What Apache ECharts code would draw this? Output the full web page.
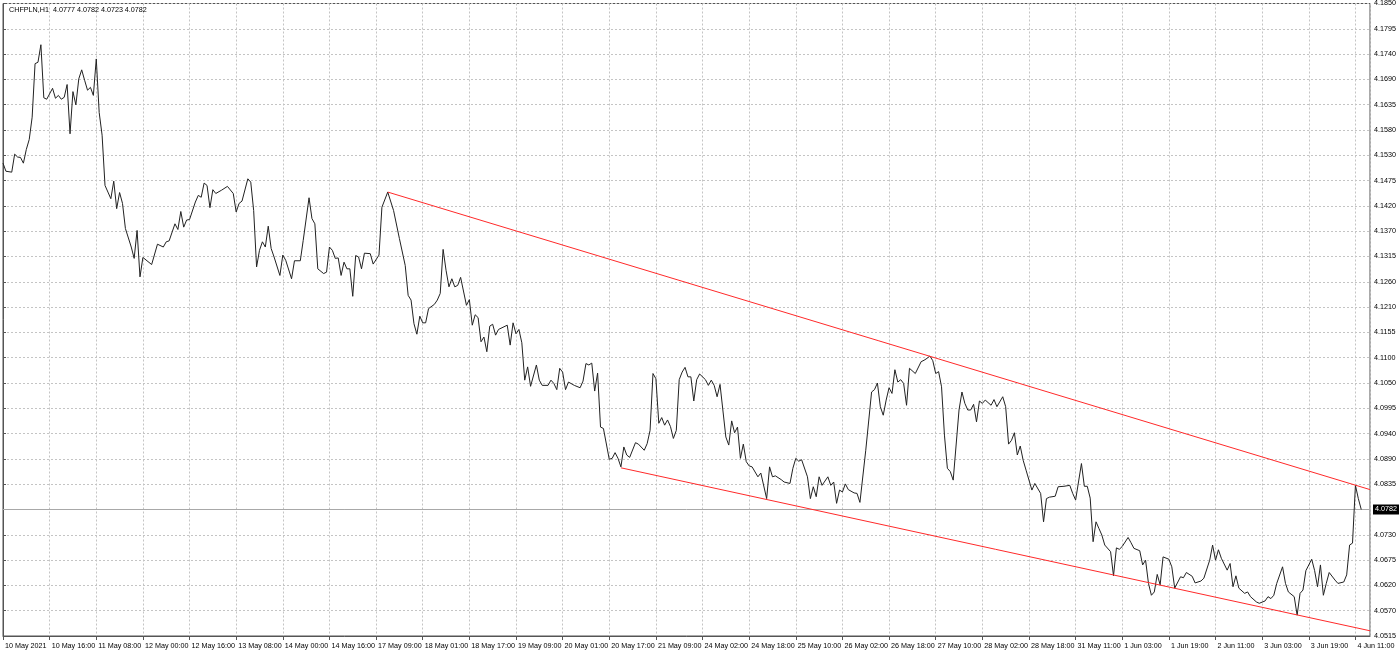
<!DOCTYPE html>
<html>
<head>
<meta charset="utf-8">
<script src="https://cdn.jsdelivr.net/npm/echarts@6/dist/echarts.min.js"></script>
<style>
html,body{margin:0;padding:0;background:#fff;}
#chart{width:1400px;height:655px;}
</style>
</head>
<body>
<div id="chart"></div>
<script>
// ---- data ----
const headerText = 'CHFPLN,H1  4.0777 4.0782 4.0723 4.0782';
const xTickLabels = ['10 May 2021','10 May 16:00','11 May 08:00','12 May 00:00','12 May 16:00','13 May 08:00','14 May 00:00','14 May 16:00','17 May 09:00','18 May 01:00','18 May 17:00','19 May 09:00','20 May 01:00','20 May 17:00','21 May 09:00','24 May 02:00','24 May 18:00','25 May 10:00','26 May 02:00','26 May 18:00','27 May 10:00','28 May 02:00','28 May 18:00','31 May 11:00','1 Jun 03:00','1 Jun 19:00','2 Jun 11:00','3 Jun 03:00','3 Jun 19:00','4 Jun 11:00'];
const yTickLabels = ['4.0515','4.0570','4.0620','4.0675','4.0730','','4.0835','4.0890','4.0940','4.0995','4.1050','4.1100','4.1155','4.1210','4.1260','4.1315','4.1370','4.1420','4.1475','4.1530','4.1580','4.1635','4.1690','4.1740','4.1795','4.1850'];
const barsPerLabel = 16;
const yMin = 4.0515, yMax = 4.1850, yStep = 0.00534;
const xMax = 469;
// hourly bar index (from 10 May 2021 00:00) and close price
const barIdx = [0,1,3,4,5,6,7,8,9,10,11,12,13,14,15,17,18,19,20,21,22,23,24,25,26,27,28,29,30,31,32,33,34,35,36,37,38,39,40,41,42,44,45,46,47,48,51,53,55,56,57,59,60,61,62,63,64,66,67,68,69,70,71,72,73,75,77,79,80,81,82,84,85,86,87,88,89,90,91,92,93,95,96,97,99,100,102,103,105,106,107,108,110,111,112,113,114,115,116,117,118,119,120,121,122,123,124,126,127,129,130,132,134,136,138,139,140,141,142,143,144,145,146,148,149,150,151,152,153,154,155,156,157,159,160,161,162,163,164,165,166,167,168,169,170,173,174,175,176,177,178,179,180,181,183,184,185,187,188,189,190,191,192,193,194,196,198,199,200,201,202,203,204,205,206,208,209,210,211,212,213,214,215,217,218,220,221,222,223,224,225,226,227,228,229,230,231,232,233,234,235,236,237,238,239,241,242,243,244,245,246,248,249,250,251,252,253,254,255,256,257,259,260,262,263,264,265,267,268,270,271,272,273,274,276,277,278,279,280,281,283,284,285,286,287,288,289,290,292,293,294,296,298,299,300,301,302,303,304,305,306,307,308,309,310,311,313,315,316,317,318,319,320,321,322,323,324,325,326,328,329,330,331,332,333,334,335,336,337,339,340,341,343,344,345,346,347,348,349,350,351,353,354,356,357,358,359,361,362,364,366,367,368,370,371,372,373,374,375,376,377,378,380,381,382,383,384,386,387,388,390,391,392,393,394,395,396,397,398,400,401,402,404,405,406,408,409,411,412,414,415,416,417,418,420,421,422,423,424,426,427,428,430,431,433,434,435,436,437,439,440,441,443,444,445,446,447,449,450,451,452,453,454,455,457,458,460,461,462,463,464,465,466];
const closePx = [4.1513,4.1496,4.1494,4.1532,4.1526,4.1525,4.1513,4.1542,4.1563,4.1610,4.1723,4.1726,4.1763,4.1651,4.1648,4.1671,4.1650,4.1656,4.1648,4.1652,4.1679,4.1575,4.1664,4.1636,4.1691,4.1710,4.1688,4.1667,4.1673,4.1656,4.1733,4.1620,4.1572,4.1466,4.1452,4.1438,4.1475,4.1417,4.1451,4.1428,4.1375,4.1336,4.1312,4.1371,4.1273,4.1314,4.1299,4.1342,4.1336,4.1347,4.1349,4.1385,4.1373,4.1411,4.1378,4.1393,4.1394,4.1431,4.1445,4.1441,4.1471,4.1466,4.1419,4.1457,4.1449,4.1456,4.1464,4.1449,4.1410,4.1428,4.1433,4.1480,4.1473,4.1413,4.1294,4.1329,4.1347,4.1336,4.1380,4.1333,4.1315,4.1276,4.1319,4.1308,4.1269,4.1307,4.1307,4.1350,4.1440,4.1396,4.1385,4.1290,4.1280,4.1283,4.1336,4.1329,4.1312,4.1313,4.1276,4.1304,4.1290,4.1290,4.1232,4.1318,4.1315,4.1290,4.1323,4.1322,4.1300,4.1319,4.1420,4.1452,4.1413,4.1354,4.1297,4.1234,4.1224,4.1174,4.1152,4.1190,4.1176,4.1176,4.1206,4.1215,4.1224,4.1238,4.1331,4.1287,4.1252,4.1269,4.1252,4.1255,4.1272,4.1213,4.1225,4.1171,4.1193,4.1187,4.1136,4.1146,4.1115,4.1169,4.1173,4.1150,4.1162,4.1171,4.1129,4.1176,4.1153,4.1162,4.1134,4.1055,4.1083,4.1042,4.1087,4.1055,4.1044,4.1044,4.1055,4.1048,4.1035,4.1080,4.1072,4.1035,4.1051,4.1044,4.1039,4.1053,4.1090,4.1087,4.1091,4.1032,4.1070,4.0956,4.0953,4.0888,4.0890,4.0902,4.0890,4.0872,4.0914,4.0897,4.0892,4.0923,4.0920,4.0907,4.0921,4.0949,4.1069,4.1058,4.0964,4.0976,4.0960,4.0971,4.0957,4.0932,4.0949,4.1056,4.1072,4.1082,4.1062,4.1062,4.1011,4.1056,4.1068,4.1056,4.1044,4.1055,4.1044,4.1020,4.1046,4.0935,4.0918,4.0969,4.0944,4.0956,4.0890,4.0920,4.0883,4.0874,4.0872,4.0851,4.0859,4.0805,4.0872,4.0851,4.0853,4.0845,4.0840,4.0837,4.0869,4.0890,4.0884,4.0887,4.0851,4.0805,4.0830,4.0809,4.0851,4.0833,4.0851,4.0833,4.0840,4.0795,4.0823,4.0819,4.0836,4.0824,4.0817,4.0816,4.0797,4.0907,4.1030,4.1035,4.1049,4.0999,4.0981,4.1013,4.1039,4.1027,4.1077,4.1051,4.1056,4.1048,4.1002,4.1080,4.1069,4.1094,4.1097,4.1101,4.1106,4.1096,4.1069,4.1073,4.1041,4.0939,4.0869,4.0862,4.0844,4.0992,4.1030,4.1006,4.0992,4.0992,4.1004,4.0967,4.1011,4.1006,4.1013,4.1002,4.1014,4.0999,4.1020,4.0999,4.0920,4.0928,4.0944,4.0897,4.0916,4.0886,4.0865,4.0823,4.0837,4.0816,4.0756,4.0805,4.0808,4.0810,4.0830,4.0831,4.0833,4.0816,4.0802,4.0879,4.0831,4.0831,4.0806,4.0714,4.0756,4.0742,4.0728,4.0707,4.0693,4.0642,4.0701,4.0698,4.0704,4.0723,4.0712,4.0700,4.0695,4.0665,4.0675,4.0626,4.0601,4.0608,4.0645,4.0623,4.0682,4.0677,4.0661,4.0616,4.0640,4.0638,4.0649,4.0641,4.0627,4.0631,4.0637,4.0675,4.0707,4.0675,4.0697,4.0679,4.0654,4.0668,4.0619,4.0642,4.0616,4.0605,4.0608,4.0598,4.0587,4.0584,4.0589,4.0598,4.0594,4.0601,4.0626,4.0661,4.0626,4.0608,4.0598,4.0559,4.0605,4.0612,4.0653,4.0677,4.0653,4.0619,4.0665,4.0601,4.0626,4.0649,4.0633,4.0626,4.0629,4.0644,4.0707,4.0711,4.0833,4.0805,4.0782];
const lastPrice = 4.0782;
const trendUpperX = [132, 469], trendUpperY = [4.1452, 4.0824];
const trendLowerX = [212, 469], trendLowerY = [4.0870, 4.0526];

// ---- chart ----
const FONT = "'Liberation Sans',Arial,sans-serif";
const FS = 7.2;
const chart = echarts.init(document.getElementById('chart'), null, {renderer:'canvas'});
const priceData = barIdx.map((b, i) => [b, closePx[i]]);
const upper = trendUpperX.map((b, i) => [b, trendUpperY[i]]);
const lower = trendLowerX.map((b, i) => [b, trendLowerY[i]]);
const lastLine = [[0, lastPrice], [xMax, lastPrice]];

chart.setOption({
  animation: false,
  backgroundColor: '#ffffff',
  title: {
    text: headerText, left: 4, top: 2,
    textStyle: {fontSize: FS, fontWeight: 'normal', color: '#000', fontFamily: FONT}
  },
  grid: {left: 3, right: 30, top: 3, bottom: 19, show: true, borderColor: '#555', borderWidth: 1},
  xAxis: {
    type: 'value', min: 0, max: xMax, interval: barsPerLabel,
    axisLine: {show: true, lineStyle: {color: '#555'}},
    axisTick: {show: true, length: 4, lineStyle: {color: '#555'}},
    axisLabel: {
      margin: 7, align: 'left', color: '#000', fontSize: FS, fontFamily: FONT,
      showMinLabel: true, showMaxLabel: false, padding: [0, 0, 0, 2],
      formatter: v => { const k = v / barsPerLabel; return (Number.isInteger(k) && xTickLabels[k]) ? xTickLabels[k] : ''; }
    },
    splitLine: {show: true, lineStyle: {color: '#c4c4c4', type: [2, 2], width: 1}}
  },
  yAxis: {
    type: 'value', position: 'right', min: yMin, max: yMax, interval: yStep,
    axisLine: {show: true, lineStyle: {color: '#555'}},
    axisTick: {show: true, length: 3, lineStyle: {color: '#555'}},
    axisLabel: {
      margin: 4, color: '#000', fontSize: FS, fontFamily: FONT, showMinLabel: true, showMaxLabel: true,
      formatter: v => { const k = Math.round((v - yMin) / yStep); return yTickLabels[k] || ''; }
    },
    splitLine: {show: true, lineStyle: {color: '#c4c4c4', type: [2, 2], width: 1}}
  },
  series: [
    {
      type: 'line', data: lastLine, symbol: 'none', z: 2, silent: true,
      lineStyle: {color: '#a8a8a8', width: 1},
      endLabel: {
        show: true, distance: 3, formatter: lastPrice.toFixed(4),
        backgroundColor: '#000', color: '#fff', padding: [2, 2, 1, 2], fontSize: FS, fontFamily: FONT
      }
    },
    {type: 'line', data: priceData, symbol: 'none', z: 3, lineStyle: {color: '#222', width: 1}},
    {type: 'line', data: upper, symbol: 'none', z: 4, lineStyle: {color: '#ff2a2a', width: 1}},
    {type: 'line', data: lower, symbol: 'none', z: 4, lineStyle: {color: '#ff2a2a', width: 1}}
  ]
});
</script>
</body>
</html>
